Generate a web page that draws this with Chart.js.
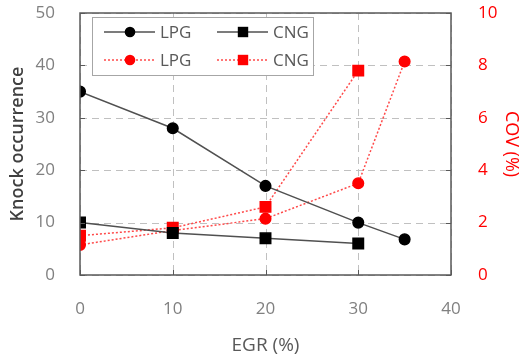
<!DOCTYPE html>
<html>
<head>
<meta charset="utf-8">
<script src="https://cdn.jsdelivr.net/npm/chart.js@4/dist/chart.umd.min.js"></script>
<style>
  html, body { margin: 0; padding: 0; background: #fff; }
  #wrap { width: 522px; height: 357px; position: relative; }
</style>
</head>
<body>
<div id="wrap"><canvas id="grafico"></canvas></div>
<script>
// Datos
const egrLpg = [0, 10, 20, 30, 35];
const egrCng = [0, 10, 20, 30];
const knockLpg = [35, 28, 17, 10, 6.8];
const knockCng = [10, 8, 7, 6];
const covLpg = [1.15, 1.7, 2.15, 3.5, 8.15];
const covCng = [1.5, 1.8, 2.6, 7.8];
const legendLabels = ['LPG', 'CNG', 'LPG', 'CNG'];

const FONT = "'Open Sans', 'Noto Sans', sans-serif";
const GRIS = '#808080';
const ROJO = '#ff0000';

function puntos(xs, ys) {
    return xs.map((x, i) => ({ x: x, y: ys[i] }));
}

// Fija el tamaño de cada eje y quita el margen extra que Chart.js reserva para las etiquetas
function fijar(ancho, alto) {
    return function(s) {
        if (ancho !== null) s.width = ancho;
        if (alto !== null) s.height = alto;
        s.paddingTop = 0;
        s.paddingBottom = 0;
        s.paddingLeft = 0;
        s.paddingRight = 0;
    };
}

const datasets = [
    {
        label: legendLabels[0], data: puntos(egrLpg, knockLpg), yAxisID: 'y',
        borderColor: '#505050', borderWidth: 1.5, pointStyle: 'circle', pointRadius: 5.3,
        pointBackgroundColor: '#000', pointBorderColor: '#000'
    },
    {
        label: legendLabels[1], data: puntos(egrCng, knockCng), yAxisID: 'y',
        borderColor: '#505050', borderWidth: 1.5, pointStyle: 'rect', pointRadius: 7.4,
        pointBackgroundColor: '#000', pointBorderColor: '#000'
    },
    {
        label: legendLabels[2], data: puntos(egrLpg, covLpg), yAxisID: 'y1',
        borderColor: '#ff4a4a', borderWidth: 1.5, borderDash: [2, 2], pointStyle: 'circle', pointRadius: 5.3,
        pointBackgroundColor: ROJO, pointBorderColor: ROJO
    },
    {
        label: legendLabels[3], data: puntos(egrCng, covCng), yAxisID: 'y1',
        borderColor: '#ff4a4a', borderWidth: 1.5, borderDash: [2, 2], pointStyle: 'rect', pointRadius: 7.4,
        pointBackgroundColor: ROJO, pointBorderColor: ROJO
    }
];

// Rejilla discontinua, dibujada a mano a partir de los ticks de cada escala
const rejilla = {
    id: 'rejilla',
    beforeDatasetsDraw(chart) {
        const ctx = chart.ctx;
        const ca = chart.chartArea;
        const sx = chart.scales.x, sy = chart.scales.y;
        ctx.save();
        ctx.strokeStyle = '#c0c0c0';
        ctx.lineWidth = 1;
        ctx.setLineDash([7, 5]);
        sx.ticks.forEach(t => {
            const px = Math.round(sx.getPixelForValue(t.value)) + 0.5;
            ctx.beginPath();
            ctx.moveTo(px, ca.top);
            ctx.lineTo(px, ca.bottom);
            ctx.stroke();
        });
        sy.ticks.forEach(t => {
            const py = Math.round(sy.getPixelForValue(t.value)) + 0.5;
            ctx.beginPath();
            ctx.moveTo(ca.left, py);
            ctx.lineTo(ca.right, py);
            ctx.stroke();
        });
        ctx.restore();
    }
};

// Marco del área de trazado con marcas hacia dentro
const marco = {
    id: 'marco',
    afterDatasetsDraw(chart) {
        const ctx = chart.ctx;
        const ca = chart.chartArea;
        const sx = chart.scales.x, sy = chart.scales.y, sy1 = chart.scales.y1;
        ctx.save();
        ctx.strokeStyle = '#595959';
        ctx.lineWidth = 1.5;
        ctx.strokeRect(ca.left, ca.top, ca.right - ca.left, ca.bottom - ca.top);
        ctx.lineWidth = 1;
        ctx.beginPath();
        sx.ticks.forEach(t => {
            const px = Math.round(sx.getPixelForValue(t.value)) + 0.5;
            ctx.moveTo(px, ca.bottom);
            ctx.lineTo(px, ca.bottom - 5);
        });
        sy.ticks.forEach(t => {
            const py = Math.round(sy.getPixelForValue(t.value)) + 0.5;
            ctx.moveTo(ca.left, py);
            ctx.lineTo(ca.left + 5, py);
        });
        sy1.ticks.forEach(t => {
            const py = Math.round(sy1.getPixelForValue(t.value)) + 0.5;
            ctx.moveTo(ca.right, py);
            ctx.lineTo(ca.right - 5, py);
        });
        ctx.stroke();
        ctx.restore();
    }
};

// Leyenda dibujada dentro del área del gráfico
const leyendaInterna = {
    id: 'leyendaInterna',
    afterDraw(chart) {
        const ctx = chart.ctx;
        const ca = chart.chartArea;
        const x0 = ca.left + 12, y0 = ca.top + 4, w = 221, h = 58;
        ctx.save();
        ctx.fillStyle = '#fff';
        ctx.fillRect(x0, y0, w, h);
        ctx.strokeStyle = '#a6a6a6';
        ctx.lineWidth = 1;
        ctx.strokeRect(x0 + 0.5, y0 + 0.5, w, h);
        ctx.font = '17px ' + FONT;
        ctx.textBaseline = 'middle';
        chart.data.datasets.forEach((ds, i) => {
            const col = i % 2, fila = Math.floor(i / 2);
            const lx = x0 + 12 + col * 113;
            const ly = y0 + 15 + fila * 28;
            ctx.strokeStyle = ds.borderColor;
            ctx.lineWidth = 1.5;
            ctx.setLineDash(ds.borderDash || []);
            ctx.beginPath();
            ctx.moveTo(lx, ly);
            ctx.lineTo(lx + 51, ly);
            ctx.stroke();
            ctx.setLineDash([]);
            ctx.fillStyle = ds.pointBackgroundColor;
            const mx = lx + 26;
            if (ds.pointStyle === 'circle') {
                ctx.beginPath();
                ctx.arc(mx, ly, 5.3, 0, Math.PI * 2);
                ctx.fill();
            } else {
                ctx.fillRect(mx - 5.2, ly - 5.2, 10.4, 10.4);
            }
            ctx.fillStyle = '#595959';
            ctx.fillText(ds.label, lx + 56, ly + 1);
        });
        ctx.restore();
    }
};

const ctx = document.getElementById('grafico').getContext('2d');
new Chart(ctx, {
    type: 'line',
    data: { datasets: datasets },
    options: {
        responsive: true,
        maintainAspectRatio: false,
        animation: false,
        layout: { padding: { top: 13, left: 0, right: 0, bottom: 0 } },
        plugins: { legend: { display: false }, tooltip: { enabled: false } },
        scales: {
            x: {
                type: 'linear', min: 0, max: 40,
                ticks: { stepSize: 10, color: GRIS, font: { family: FONT, size: 17 }, padding: 16 },
                grid: { display: false },
                border: { display: false },
                title: { display: true, text: 'EGR (%)', color: '#595959', font: { family: FONT, size: 19 }, padding: { top: 0, bottom: 0 } },
                afterFit: fijar(null, 82)
            },
            y: {
                position: 'left', min: 0, max: 50,
                ticks: { stepSize: 10, color: GRIS, font: { family: FONT, size: 17 }, padding: 17 },
                grid: { display: false },
                border: { display: false },
                title: { display: true, text: 'Knock occurrence', color: '#404040', font: { family: FONT, size: 18, weight: '600' }, padding: { top: 7, bottom: 7 } },
                afterFit: fijar(80, null)
            },
            y1: {
                position: 'right', min: 0, max: 10,
                ticks: { stepSize: 2, color: ROJO, font: { family: FONT, size: 17 }, padding: 19 },
                grid: { display: false },
                border: { display: false },
                title: { display: true, text: 'COV (%)', color: ROJO, font: { family: FONT, size: 18 }, padding: { top: 0, bottom: 0 } },
                afterFit: fijar(71, null)
            }
        }
    },
    plugins: [rejilla, marco, leyendaInterna]
});
</script>
</body>
</html>
